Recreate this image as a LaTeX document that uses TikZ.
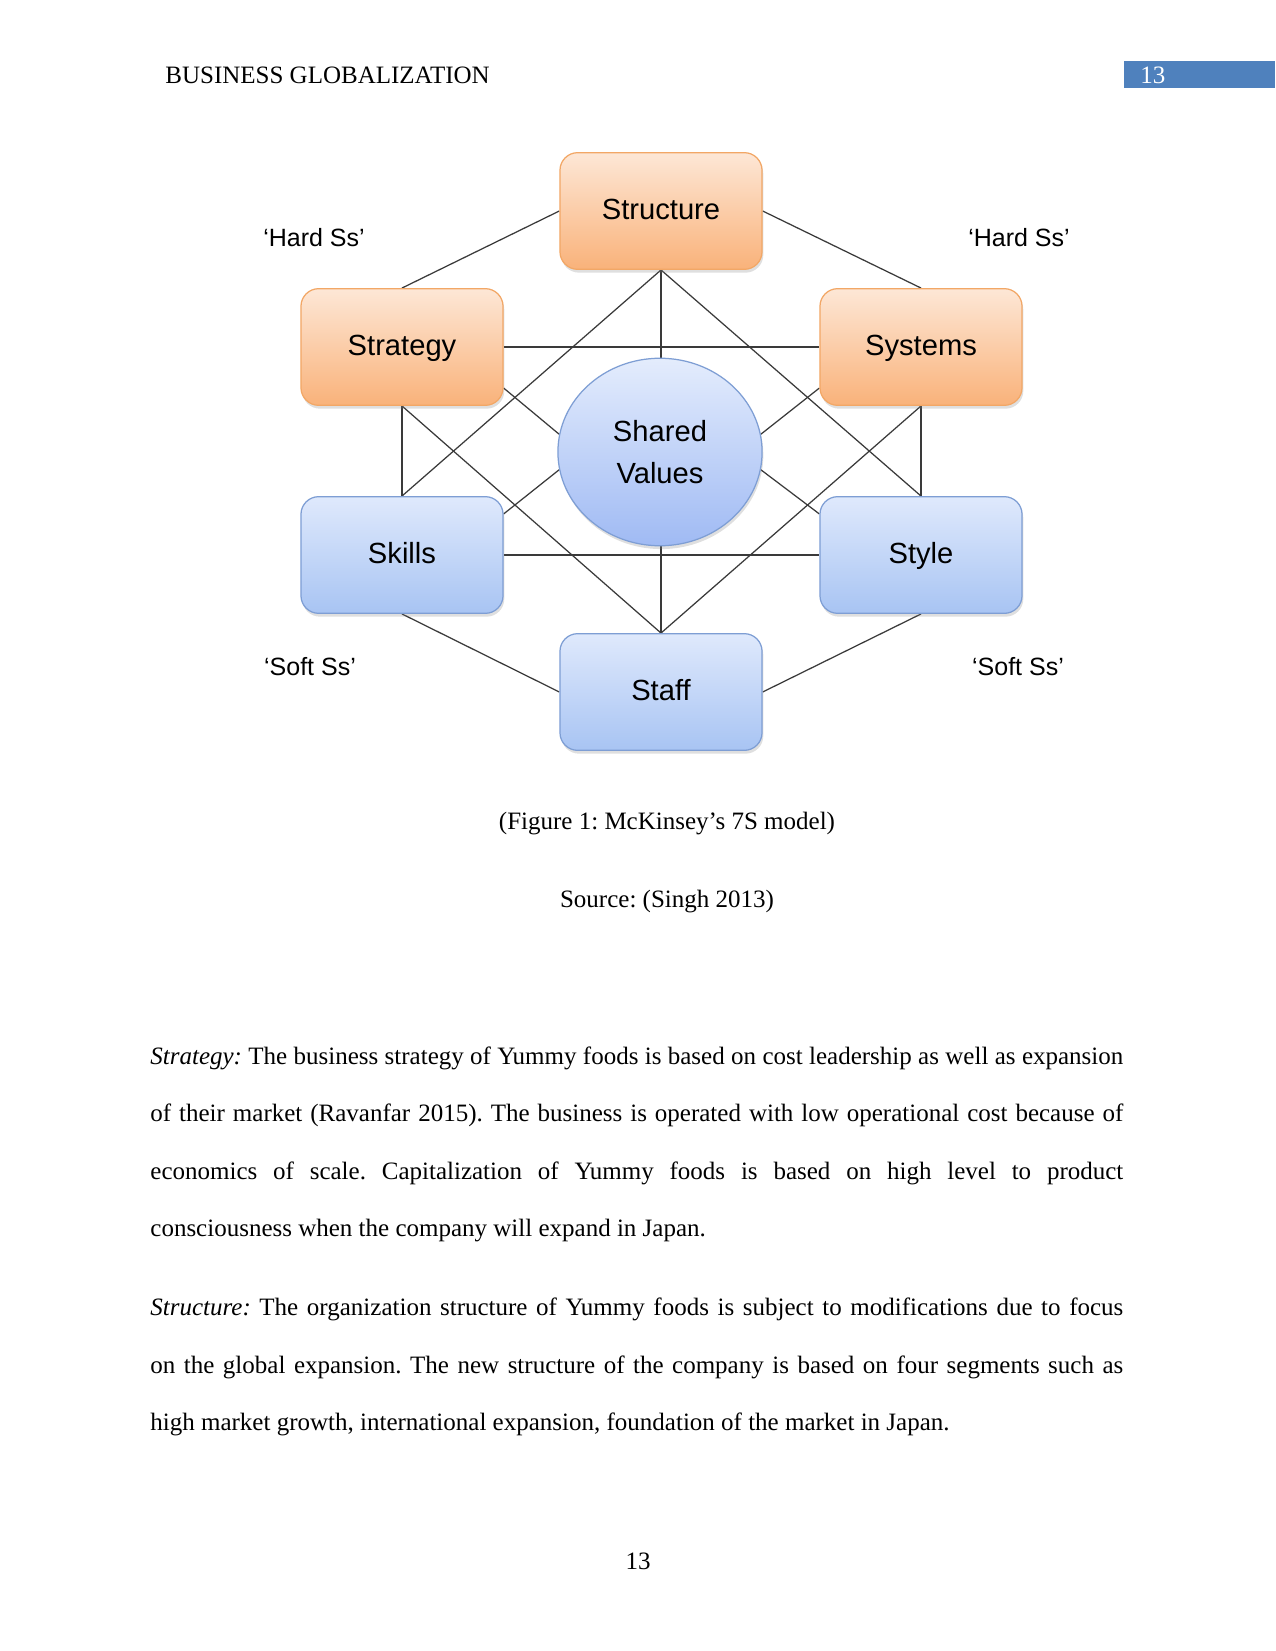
\documentclass[tikz,border=0pt]{standalone}
\usepackage{fontspec}
\setmainfont{Liberation Serif}
\newfontfamily\diagfont{Liberation Sans}
\usetikzlibrary{positioning,shapes.geometric,backgrounds,shadows}
\definecolor{hardTop}{HTML}{FDE7D6}
\definecolor{hardBot}{HTML}{F9B27A}
\definecolor{hardEdge}{HTML}{F2A766}
\definecolor{softTop}{HTML}{DFE9FC}
\definecolor{softBot}{HTML}{A8C4F3}
\definecolor{softEdge}{HTML}{7E9ED4}
\definecolor{linkGrey}{HTML}{3A3A3A}
\definecolor{headBlue}{HTML}{4F81BD}
\frenchspacing
\newlength\bodyw
\setlength\bodyw{467pt}
\newcommand\jline[1]{\hbox to \bodyw{#1}}

\tikzset{
  sbox/.style={rounded corners=8.5pt,minimum width=97pt,minimum height=56pt,
               line width=0.6pt,font=\diagfont\fontsize{14}{16}\selectfont,
               text height=11pt,text depth=3pt,
               drop shadow={opacity=0.25,shadow xshift=0.6pt,shadow yshift=-1.6pt}},
  hardbox/.style={sbox,draw=hardEdge,top color=hardTop,bottom color=hardBot},
  softbox/.style={sbox,draw=softEdge,top color=softTop,bottom color=softBot},
  link/.style={draw=linkGrey,line width=0.6pt},
  groupnote/.style={font=\diagfont\fontsize{12}{14}\selectfont,inner sep=0pt},
  bodytext/.style={anchor=base west,inner sep=0pt,font=\fontsize{12}{14}\selectfont},
  centretext/.style={anchor=base,inner sep=0pt,font=\fontsize{12}{14}\selectfont}
}

\begin{document}
\begin{tikzpicture}[x=0.48pt,y=-0.48pt]
  \useasboundingbox (0,0) rectangle (1275,1651);

  % running head
  \fill[headBlue] (1124,61) rectangle (1275,88);
  \node[bodytext] (head) at (165,84) {BUSINESS GLOBALIZATION};
  \node[bodytext,text=white] (headnum) at (1140,84) {13};

  % the seven S
  \node[hardbox] (structure) at (661,211) {Structure};
  \node[hardbox] (strategy) at (402,347) {Strategy};
  \node[hardbox] (systems) at (921,347) {Systems};
  \node[softbox] (skills) at (402,555) {Skills};
  \node[softbox] (style) at (921,555) {Style};
  \node[softbox] (staff) at (661,692) {Staff};
  \node[ellipse,draw=softEdge,line width=0.6pt,top color=softTop!85!white,
        bottom color=softBot!95!blue,minimum width=98pt,minimum height=90pt,
        inner sep=0pt,align=center,font=\diagfont\fontsize{14}{20}\selectfont,
        drop shadow={opacity=0.25,shadow xshift=0.6pt,shadow yshift=-1.6pt}]
        (shared) at (660,452) {Shared\\Values};

  \node[groupnote] (hardL) at (314,238) {‘Hard Ss’};
  \node[groupnote] (hardR) at (1019,238) {‘Hard Ss’};
  \node[groupnote] (softL) at (310,667) {‘Soft Ss’};
  \node[groupnote] (softR) at (1018,667) {‘Soft Ss’};

  \begin{scope}[on background layer]
    \draw[link] (structure.west) -- (strategy.north);
    \draw[link] (structure.east) -- (systems.north);
    \draw[link] (skills.south) -- (staff.west);
    \draw[link] (style.south) -- (staff.east);
    \draw[link] (structure.south) -- (staff.north);
    \draw[link] (strategy) -- (systems);
    \draw[link] (skills) -- (style);
    \draw[link] (strategy.south) -- (skills.north);
    \draw[link] (systems.south) -- (style.north);
    \draw[link] (structure.south) -- (skills.north);
    \draw[link] (structure.south) -- (style.north);
    \draw[link] (staff.north) -- (strategy.south);
    \draw[link] (staff.north) -- (systems.south);
    \draw[link] (strategy.-22) -- (shared.170);
    \draw[link] (systems.202) -- (shared.10);
    \draw[link] (skills.22) -- (shared.190);
    \draw[link] (style.158) -- (shared.-10);
  \end{scope}

  % caption
  \node[centretext] (caption) at (667,829) {(Figure 1: McKinsey’s 7S model)};
  \node[centretext] (source) at (667,907) {Source: (Singh 2013)};

  % body
  \node[bodytext] (p1a) at (150,1064) {\jline{\textit{Strategy:} The business strategy of Yummy foods is based on cost leadership as well as expansion}};
  \node[bodytext] (p1b) at (150,1121) {\jline{of their market (Ravanfar 2015). The business is operated with low operational cost because of}};
  \node[bodytext] (p1c) at (150,1179) {\jline{economics of scale. Capitalization of Yummy foods is based on high level to product}};
  \node[bodytext] (p1d) at (150,1236) {consciousness when the company will expand in Japan.};
  \node[bodytext] (p2a) at (150,1315) {\jline{\textit{Structure:} The organization structure of Yummy foods is subject to modifications due to focus}};
  \node[bodytext] (p2b) at (150,1373) {\jline{on the global expansion. The new structure of the company is based on four segments such as}};
  \node[bodytext] (p2c) at (150,1430) {high market growth, international expansion, foundation of the market in Japan.};

  \node[centretext] (folio) at (638,1569) {13};
\end{tikzpicture}
\end{document}
